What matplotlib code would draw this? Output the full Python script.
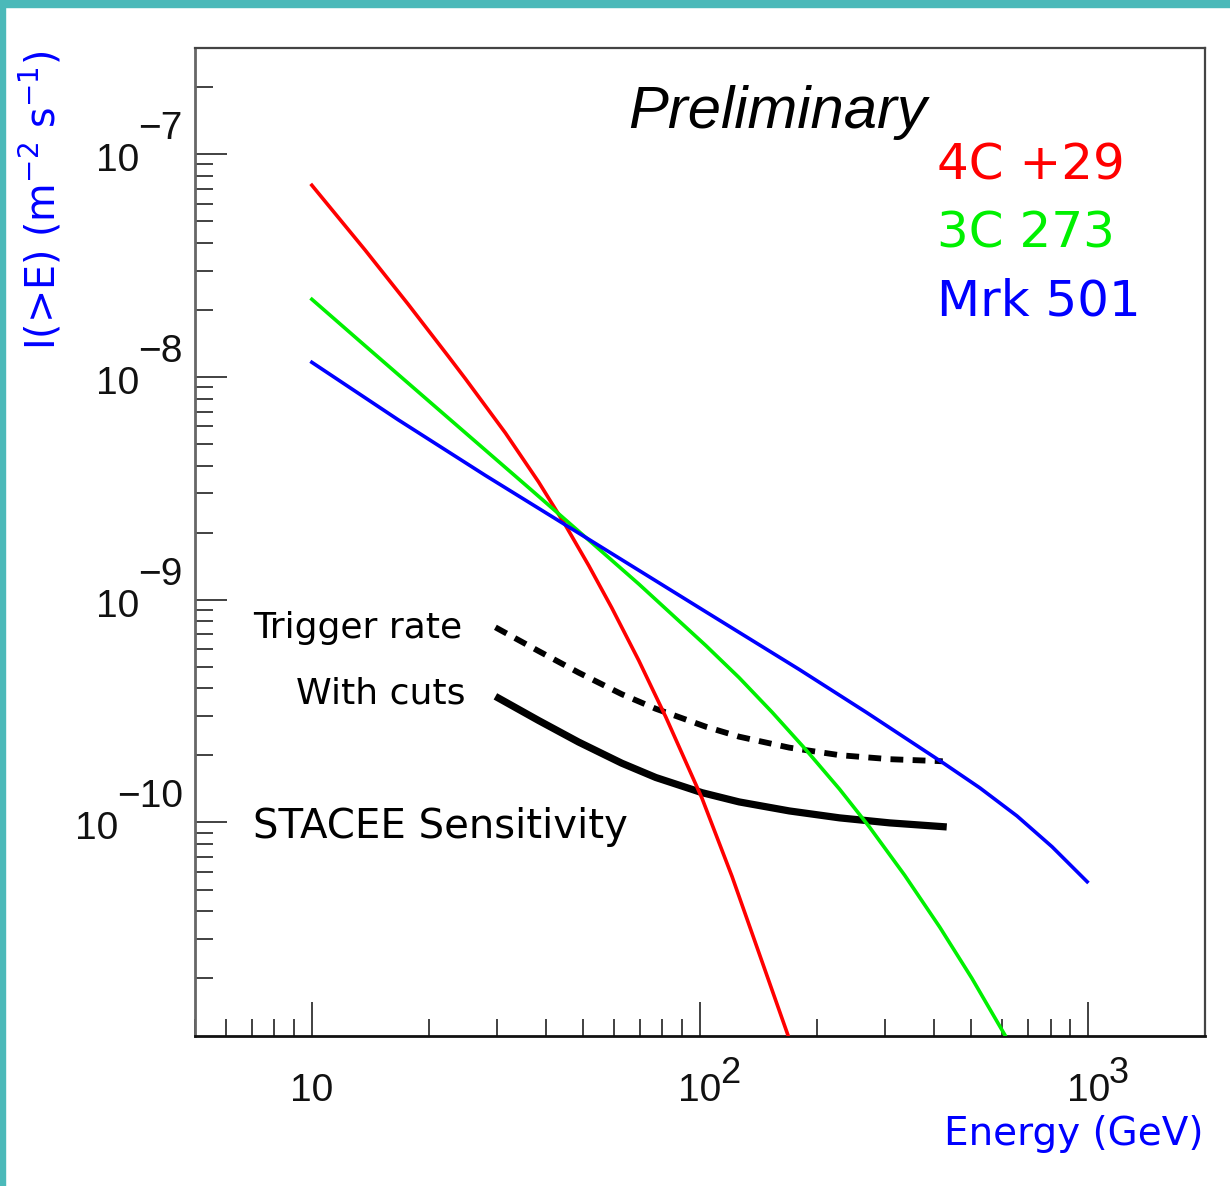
import matplotlib
matplotlib.use("Agg")
import matplotlib.pyplot as plt
from matplotlib.patches import Rectangle
from matplotlib.ticker import LogLocator, NullFormatter
import matplotlib.transforms as mtrans

# ---------------- data ----------------
red_E = [10, 13.71, 17.70, 22.46, 24.85, 31.53, 38.37, 45.06, 51.68, 59.25,
         69.57, 81.69, 101.2, 120.9, 169.8]
red_I = [7.26e-8, 3.718e-8, 2.123e-8, 1.240e-8, 9.835e-9, 5.605e-9, 3.383e-9,
         2.153e-9, 1.424e-9, 9.20e-10, 5.33e-10, 2.968e-10, 1.284e-10,
         5.73e-11, 1.068e-11]

green_E = [10, 13.71, 22.06, 36.81, 52.60, 69.57, 103.6, 126.1, 153.5, 186.7,
           228.7, 273.4, 336.6, 414.6, 501.5, 610.3]
green_I = [2.233e-8, 1.382e-8, 6.730e-9, 3.105e-9, 1.804e-9, 1.176e-9,
           6.22e-10, 4.47e-10, 3.122e-10, 2.138e-10, 1.413e-10, 9.53e-11,
           5.80e-11, 3.39e-11, 2.00e-11, 1.111e-11]

blue_E = [10, 16.68, 27.99, 50.75, 103.6, 180.3, 268.5, 422.1, 526.0, 655.5,
          807.3, 994.1]
blue_I = [1.164e-8, 6.43e-9, 3.616e-9, 1.905e-9, 8.82e-10, 4.86e-10,
          3.119e-10, 1.856e-10, 1.430e-10, 1.070e-10, 7.78e-11, 5.42e-11]

trig_E = [29.71, 38.37, 48.68, 62.86, 76.94, 103.6, 126.1, 169.8, 228.7,
          307.8, 422.1]
trig_I = [7.52e-10, 5.885e-10, 4.707e-10, 3.767e-10, 3.240e-10, 2.690e-10,
          2.428e-10, 2.168e-10, 2.006e-10, 1.924e-10, 1.883e-10]

cuts_E = [29.71, 38.37, 48.68, 62.86, 76.94, 101.2, 126.1, 169.8, 228.7,
          307.8, 432.2]
cuts_I = [3.683e-10, 2.871e-10, 2.296e-10, 1.846e-10, 1.592e-10, 1.361e-10,
          1.237e-10, 1.127e-10, 1.049e-10, 9.96e-11, 9.55e-11]

source_names = ["4C +29", "3C 273", "Mrk 501"]
source_colors = ["#ff0000", "#00f000", "#0000ff"]

x_major = [10, 100, 1000]
x_exps = ["", "2", "3"]
y_major = [1e-7, 1e-8, 1e-9, 1e-10]
y_exps = ["\u22127", "\u22128", "\u22129", "\u221210"]

# ---------------- figure ----------------
W, H = 1230, 1186
fig = plt.figure(figsize=(W / 100, H / 100), dpi=100)
fig.patch.set_facecolor("white")

def fx(x):
    return x / W

def fy(y):
    return 1 - y / H

teal = "#4bb9b9"
fig.add_artist(Rectangle((0, fy(7)), 1, 7 / H, transform=fig.transFigure,
                         color=teal, zorder=0))
fig.add_artist(Rectangle((0, 0), 5 / W, 1, transform=fig.transFigure,
                         color=teal, zorder=0))

ax = fig.add_axes([fx(195), fy(1036), fx(1205) - fx(195), fy(48) - fy(1036)])
ax.set_xscale("log")
ax.set_yscale("log")
ax.set_xlim(5, 2000)
ax.set_ylim(1.1e-11, 3e-7)

for s in ["top", "right"]:
    ax.spines[s].set_color("#444444")
    ax.spines[s].set_linewidth(1.6)
ax.spines["bottom"].set_color("#111111")
ax.spines["bottom"].set_linewidth(2.0)
ax.spines["left"].set_color("#666666")
ax.spines["left"].set_linewidth(2.0)

ax.xaxis.set_major_locator(LogLocator(base=10, numticks=20))
ax.xaxis.set_minor_locator(LogLocator(base=10, subs=range(2, 10), numticks=50))
ax.yaxis.set_major_locator(LogLocator(base=10, numticks=20))
ax.yaxis.set_minor_locator(LogLocator(base=10, subs=range(2, 10), numticks=50))
ax.xaxis.set_minor_formatter(NullFormatter())
ax.yaxis.set_minor_formatter(NullFormatter())
ax.tick_params(which="both", direction="in", top=False, right=False,
               labelbottom=False, labelleft=False, color="#333333")
ax.tick_params(axis="x", which="major", length=24.5, width=1.3)
ax.tick_params(axis="x", which="minor", length=12, width=1.3)
ax.tick_params(axis="y", which="major", length=23, width=1.3)
ax.tick_params(axis="y", which="minor", length=13, width=1.3)

# curves
for E, I, c in [(red_E, red_I, source_colors[0]),
                (green_E, green_I, source_colors[1]),
                (blue_E, blue_I, source_colors[2])]:
    ax.plot(E, I, color=c, lw=2.6, solid_joinstyle="round", zorder=3)
ax.plot(trig_E, trig_I, color="black", lw=4.2, linestyle=(0, (2.2, 1.6)),
        dash_capstyle="butt", zorder=2)
ax.plot(cuts_E, cuts_I, color="black", lw=5.2, solid_capstyle="butt",
        solid_joinstyle="round", zorder=2)

# ---------------- tick labels (ROOT style) ----------------
tick_font = "Liberation Sans"
tick_size = 28
for xv, e in zip(x_major, x_exps):
    tr = mtrans.blended_transform_factory(ax.transData, ax.transAxes) + \
        mtrans.ScaledTranslation(0, -65 / 100, fig.dpi_scale_trans)
    base = ax.text(xv, 0, "10", transform=tr, ha="center", va="baseline",
                   fontsize=tick_size, family=tick_font, color="#111111",
                   clip_on=False)
    if e:
        ax.annotate(e, xy=(1, 0), xycoords=base, xytext=(-1, 18),
                    textcoords="offset pixels", ha="left", va="bottom",
                    fontsize=tick_size - 2, family=tick_font, color="#111111",
                    annotation_clip=False)
for yv, e in zip(y_major, y_exps):
    tr = mtrans.blended_transform_factory(ax.transAxes, ax.transData) + \
        mtrans.ScaledTranslation(-12 / 100, 15 / 100, fig.dpi_scale_trans)
    ex = ax.text(0, yv, e, transform=tr, ha="right", va="baseline",
                 fontsize=tick_size, family=tick_font, color="#111111",
                 clip_on=False)
    ax.annotate("10", xy=(0, 0), xycoords=ex, xytext=(1, -32),
                textcoords="offset pixels", ha="right", va="bottom",
                fontsize=tick_size, family=tick_font, color="#111111",
                annotation_clip=False)

# ---------------- axis titles ----------------
fig.text(fx(1203), fy(1145), "Energy (GeV)", ha="right", va="baseline",
         fontsize=28, family="DejaVu Sans", color="#0000ff")
fig.text(fx(41), fy(51), r"I(>E) (m$^{-2}$ s$^{-1}$)", rotation=90,
         ha="center", va="top", fontsize=28.5, family="DejaVu Sans",
         color="#0000ff")

# ---------------- annotations ----------------
fig.text(fx(628), fy(128), "Preliminary", ha="left", va="baseline",
         fontsize=43, family="Liberation Sans", style="italic", color="black")
for name, col, yb in zip(source_names, source_colors, [180, 247, 315]):
    fig.text(fx(937), fy(yb), name, ha="left", va="baseline", fontsize=36,
             family="DejaVu Sans", color=col)

fig.text(fx(253), fy(638), "Trigger rate", ha="left", va="baseline",
         fontsize=26, family="DejaVu Sans", color="black")
fig.text(fx(466), fy(704), "With cuts", ha="right", va="baseline",
         fontsize=26, family="DejaVu Sans", color="black")
fig.text(fx(253), fy(838), "STACEE Sensitivity", ha="left", va="baseline",
         fontsize=29, family="DejaVu Sans", color="black")

fig.savefig("out.png", dpi=100)
